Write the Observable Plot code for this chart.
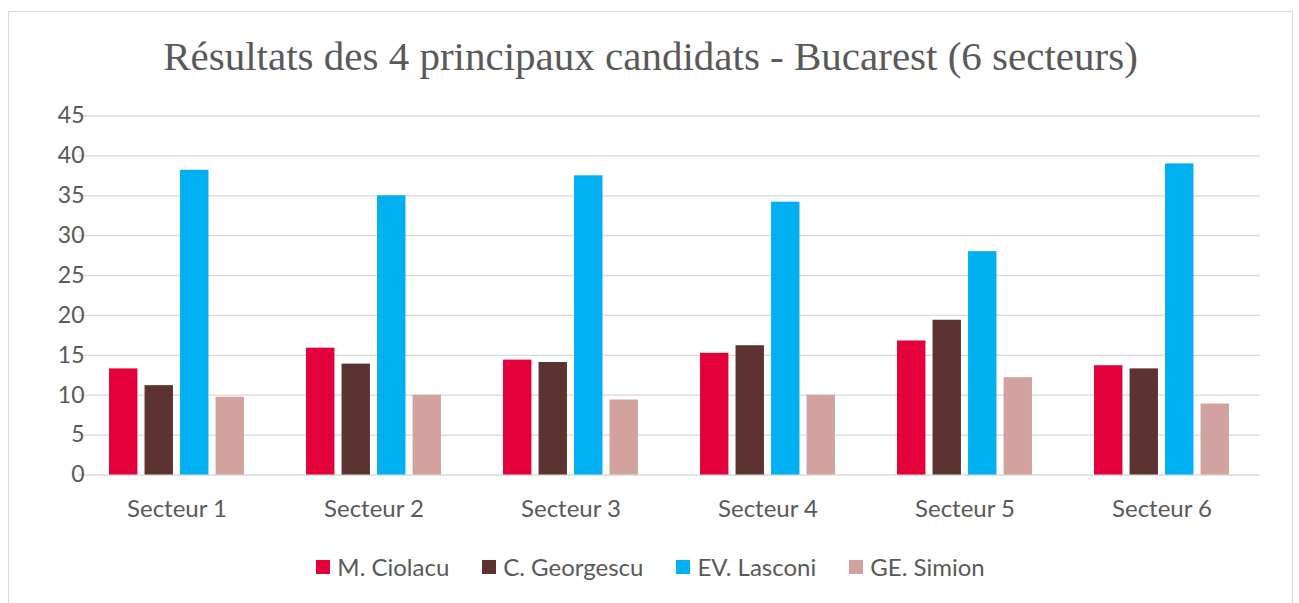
<!DOCTYPE html>
<html>
<head>
<meta charset="utf-8">
<script src="https://cdn.jsdelivr.net/npm/d3@7"></script>
<script src="https://cdn.jsdelivr.net/npm/@observablehq/plot@0.6"></script>
<style>
  body { margin: 0; background: #fff; width: 1299px; height: 603px; overflow: hidden; position: relative; font-family: Lato, sans-serif; }
  #frame { position: absolute; left: 8px; top: 11px; width: 1283px; height: 640px; border: 1px solid #d9d9d9; box-sizing: content-box; }
  #title { position: absolute; left: 8px; width: 1285px; top: 36px; text-align: center; font-family: "Liberation Serif", serif; font-size: 41px; line-height: 41px; color: #595959; white-space: nowrap; }
  #chart { position: absolute; left: 0; top: 0; }
  #legend { position: absolute; left: 8px; width: 1285px; top: 553px; display: flex; justify-content: center; gap: 33px; font-size: 24px; line-height: 28px; color: #595959; }
  .item { display: flex; align-items: center; gap: 7px; }
  .sw { width: 14px; height: 14px; display: inline-block; }
</style>
</head>
<body>
<div id="frame"></div>
<div id="title">Résultats des 4 principaux candidats - Bucarest (6 secteurs)</div>
<div id="chart"></div>
<div id="legend"></div>
<script>
const sectors = ["Secteur 1", "Secteur 2", "Secteur 3", "Secteur 4", "Secteur 5", "Secteur 6"];
const candidates = ["M. Ciolacu", "C. Georgescu", "EV. Lasconi", "GE. Simion"];
const ciolacu   = [13.3, 15.9, 14.4, 15.25, 16.8, 13.7];
const georgescu = [11.2, 13.9, 14.1, 16.2, 19.4, 13.3];
const lasconi   = [38.2, 35.0, 37.5, 34.2, 28.0, 39.0];
const simion    = [9.75, 10.0, 9.4, 10.0, 12.2, 8.9];
const colors = ["#E4003A", "#5C3330", "#00B0F0", "#D2A39E"];
const yTicks = [0, 5, 10, 15, 20, 25, 30, 35, 40, 45];

const series = [ciolacu, georgescu, lasconi, simion];
const data = [];
sectors.forEach((s, i) => {
  candidates.forEach((c, j) => {
    data.push({sector: s, candidate: c, value: series[j][i]});
  });
});

const chart = Plot.plot({
  width: 1299,
  height: 540,
  marginLeft: 78,
  marginRight: 39,
  marginTop: 115.5,
  marginBottom: 65.5,
  style: {fontFamily: "Lato, sans-serif", fontSize: "23px", color: "#595959", background: "transparent", overflow: "visible"},
  fx: {domain: sectors, paddingInner: 0.315, paddingOuter: 0.1575, round: false, label: null},
  x: {domain: candidates, paddingInner: 0.2, paddingOuter: 0, round: false, axis: null},
  y: {domain: [0, 45], label: null},
  color: {domain: candidates, range: colors},
  marks: [
    Plot.ruleY(yTicks, {stroke: "#d9d9d9", strokeWidth: 1.3, insetLeft: -31, insetRight: -31}),
    Plot.barY(data, {fx: "sector", x: "candidate", y: "value", fill: "candidate"}),
    Plot.axisY({ticks: yTicks, tickSize: 0, tickPadding: 25, fontSize: 23, label: null}),
    Plot.axisFx({anchor: "bottom", tickSize: 0, tickPadding: 25, fontSize: 24, label: null})
  ]
});
document.getElementById("chart").appendChild(chart);

const legend = document.getElementById("legend");
candidates.forEach((c, j) => {
  const item = document.createElement("div");
  item.className = "item";
  const sw = document.createElement("span");
  sw.className = "sw";
  sw.style.background = colors[j];
  const label = document.createElement("span");
  label.textContent = c;
  item.appendChild(sw);
  item.appendChild(label);
  legend.appendChild(item);
});
</script>
</body>
</html>
